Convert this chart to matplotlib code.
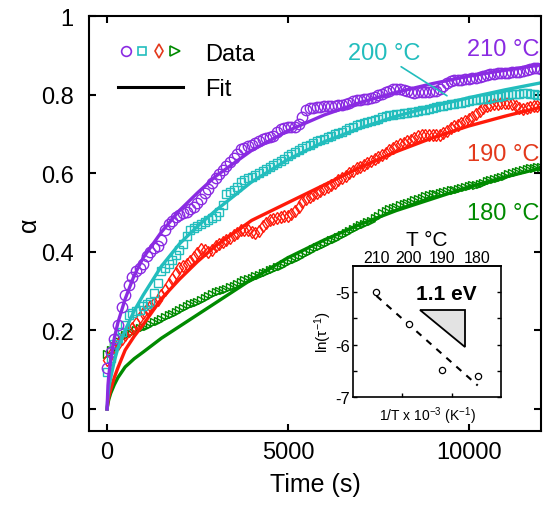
import numpy as np
import matplotlib
matplotlib.use("Agg")
import matplotlib.pyplot as plt
from matplotlib.lines import Line2D
from matplotlib.legend_handler import HandlerTuple

plt.rcParams['font.family'] = ['Liberation Sans', 'DejaVu Sans']
plt.rcParams['mathtext.fontset'] = 'custom'
plt.rcParams['mathtext.rm'] = 'Liberation Sans'
plt.rcParams['mathtext.it'] = 'Liberation Sans:italic'
plt.rcParams['mathtext.default'] = 'regular'
plt.rcParams['axes.unicode_minus'] = False

# ---------------- data ----------------
t_data = np.arange(0, 12001, 100)

a_210 = [0.105, 0.145, 0.178, 0.215, 0.260, 0.290, 0.315, 0.335, 0.350, 0.358,
         0.370, 0.390, 0.400, 0.410, 0.415, 0.430, 0.455, 0.470, 0.478, 0.488,
         0.494, 0.498, 0.502, 0.508, 0.515, 0.525, 0.535, 0.550, 0.560, 0.575,
         0.587, 0.598, 0.608, 0.618, 0.628, 0.638, 0.648, 0.662, 0.665, 0.668,
         0.672, 0.678, 0.682, 0.686, 0.690, 0.692, 0.695, 0.705, 0.713, 0.716,
         0.717, 0.718, 0.718, 0.725, 0.742, 0.760, 0.765, 0.767, 0.768, 0.769,
         0.770, 0.770, 0.771, 0.772, 0.773, 0.774, 0.776, 0.779, 0.783, 0.786,
         0.787, 0.788, 0.790, 0.792, 0.795, 0.798, 0.802, 0.806, 0.810, 0.814,
         0.815, 0.815, 0.812, 0.808, 0.806, 0.805, 0.806, 0.807, 0.806, 0.807,
         0.808, 0.810, 0.814, 0.822, 0.830, 0.834, 0.836, 0.837, 0.838, 0.839,
         0.840, 0.841, 0.842, 0.844, 0.847, 0.850, 0.852, 0.853, 0.854, 0.855,
         0.856, 0.856, 0.857, 0.857, 0.858, 0.860, 0.863, 0.866, 0.868, 0.868,
         0.866]

a_200 = [0.095, 0.130, 0.165, 0.180, 0.195, 0.215, 0.238, 0.245, 0.250, 0.253,
         0.262, 0.268, 0.273, 0.295, 0.320, 0.350, 0.360, 0.370, 0.380, 0.392,
         0.405, 0.420, 0.440, 0.455, 0.460, 0.466, 0.470, 0.476, 0.480, 0.485,
         0.492, 0.502, 0.520, 0.548, 0.553, 0.558, 0.565, 0.578, 0.583, 0.587,
         0.591, 0.595, 0.600, 0.605, 0.610, 0.615, 0.620, 0.625, 0.631, 0.637,
         0.643, 0.648, 0.654, 0.660, 0.665, 0.670, 0.673, 0.677, 0.681, 0.685,
         0.688, 0.692, 0.695, 0.699, 0.703, 0.706, 0.710, 0.714, 0.718, 0.722,
         0.725, 0.728, 0.730, 0.733, 0.736, 0.739, 0.742, 0.745, 0.747, 0.748,
         0.750, 0.751, 0.753, 0.754, 0.756, 0.757, 0.759, 0.760, 0.762, 0.764,
         0.766, 0.768, 0.770, 0.772, 0.774, 0.776, 0.777, 0.778, 0.779, 0.781,
         0.783, 0.785, 0.787, 0.788, 0.789, 0.790, 0.791, 0.793, 0.795, 0.797,
         0.799, 0.800, 0.801, 0.802, 0.802, 0.803, 0.803, 0.802, 0.801, 0.800,
         0.800]

a_190 = [0.125, 0.140, 0.155, 0.165, 0.178, 0.188, 0.198, 0.206, 0.220, 0.235,
         0.245, 0.255, 0.262, 0.270, 0.278, 0.290, 0.302, 0.318, 0.332, 0.345,
         0.358, 0.364, 0.370, 0.377, 0.386, 0.398, 0.408, 0.405, 0.400, 0.405,
         0.415, 0.420, 0.426, 0.430, 0.435, 0.442, 0.449, 0.455, 0.456, 0.455,
         0.450, 0.447, 0.452, 0.465, 0.474, 0.480, 0.483, 0.486, 0.488, 0.490,
         0.492, 0.495, 0.503, 0.515, 0.527, 0.535, 0.540, 0.545, 0.550, 0.555,
         0.560, 0.565, 0.570, 0.576, 0.582, 0.588, 0.594, 0.600, 0.606, 0.612,
         0.617, 0.622, 0.627, 0.632, 0.636, 0.641, 0.646, 0.652, 0.658, 0.664,
         0.669, 0.674, 0.678, 0.681, 0.685, 0.690, 0.694, 0.697, 0.698, 0.698,
         0.697, 0.697, 0.698, 0.702, 0.708, 0.714, 0.719, 0.723, 0.728, 0.733,
         0.738, 0.743, 0.750, 0.758, 0.765, 0.770, 0.773, 0.775, 0.777, 0.778,
         0.778, 0.778, 0.776, 0.772, 0.766, 0.764, 0.765, 0.768, 0.770, 0.771,
         0.772]

a_180 = [0.140, 0.150, 0.160, 0.172, 0.182, 0.189, 0.193, 0.197, 0.202, 0.206,
         0.209, 0.212, 0.216, 0.221, 0.225, 0.229, 0.233, 0.238, 0.243, 0.248,
         0.252, 0.257, 0.262, 0.266, 0.270, 0.273, 0.277, 0.282, 0.288, 0.293,
         0.297, 0.300, 0.303, 0.306, 0.310, 0.314, 0.318, 0.323, 0.327, 0.331,
         0.334, 0.338, 0.341, 0.345, 0.349, 0.353, 0.357, 0.361, 0.365, 0.369,
         0.373, 0.378, 0.382, 0.387, 0.391, 0.396, 0.401, 0.406, 0.411, 0.415,
         0.420, 0.424, 0.429, 0.433, 0.438, 0.442, 0.447, 0.452, 0.457, 0.462,
         0.467, 0.471, 0.475, 0.479, 0.485, 0.492, 0.499, 0.505, 0.509, 0.512,
         0.515, 0.518, 0.521, 0.524, 0.528, 0.532, 0.535, 0.538, 0.541, 0.544,
         0.546, 0.548, 0.550, 0.552, 0.554, 0.556, 0.558, 0.560, 0.562, 0.565,
         0.567, 0.569, 0.571, 0.573, 0.576, 0.579, 0.582, 0.585, 0.588, 0.591,
         0.594, 0.597, 0.600, 0.603, 0.606, 0.608, 0.610, 0.612, 0.614, 0.616,
         0.616]

t_fit = [0, 25, 50, 100, 200, 300, 500, 750, 1000, 1500, 2000, 2500, 3000,
         4000, 5000, 6000, 7000, 8000, 9000, 10000, 11000, 12000]
fit_210 = [0, 0.06, 0.088, 0.125, 0.18, 0.22, 0.28, 0.34, 0.385, 0.45, 0.505,
           0.55, 0.592, 0.658, 0.708, 0.748, 0.78, 0.806, 0.828, 0.847, 0.862, 0.876]
fit_200 = [0, 0.035, 0.055, 0.08, 0.122, 0.155, 0.20, 0.25, 0.29, 0.363, 0.42,
           0.465, 0.505, 0.578, 0.635, 0.68, 0.715, 0.745, 0.77, 0.792, 0.812, 0.83]
fit_190 = [0, 0.02, 0.032, 0.05, 0.08, 0.105, 0.15, 0.185, 0.215, 0.28, 0.33,
           0.375, 0.415, 0.48, 0.525, 0.57, 0.615, 0.655, 0.69, 0.72, 0.745, 0.768]
fit_180 = [0, 0.015, 0.025, 0.04, 0.062, 0.08, 0.107, 0.128, 0.145, 0.18, 0.21,
           0.24, 0.27, 0.33, 0.385, 0.43, 0.47, 0.505, 0.535, 0.565, 0.59, 0.613]

series_labels = ['210 °C', '200 °C', '190 °C', '180 °C']

# inset data
T_celsius = [210, 200, 190, 180]
inv_T = [1000.0 / (T + 273.15) for T in T_celsius]
ln_rate = [-5.00, -5.60, -6.48, -6.59]
arr_x = [2.070, 2.207]
arr_y = [-5.07, -6.78]
tri_x = [2.1293, 2.1892, 2.1892]
tri_y = [-5.337, -5.337, -6.036]

# ---------------- styles ----------------
c210 = '#8a2be2'
c200 = '#22bdbd'
c190 = '#ff1a0a'
c190_txt = '#e3391c'
c180 = '#008a00'

fig = plt.figure(figsize=(5.43, 5.06), dpi=100)
ax = fig.add_axes([0.1639, 0.1462, 0.8324, 0.8202])

mk = dict(ls='none', mfc='none', mew=1.0)
ax.plot(t_data, a_180, marker='>', ms=5.5, mec=c180, **mk)
ax.plot(t_data, a_190, marker='d', ms=6.2, mec=c190, **mk)
ax.plot(t_data, a_200, marker='s', ms=5.5, mec=c200, **mk)
ax.plot(t_data, a_210, marker='o', ms=7.5, mec=c210, **mk)

lw = 2.4
ax.plot(t_fit, fit_180, color=c180, lw=lw)
ax.plot(t_fit, fit_190, color=c190, lw=lw)
ax.plot(t_fit, fit_200, color=c200, lw=lw)
ax.plot(t_fit, fit_210, color=c210, lw=lw)

ax.set_xlim(-500, 12000)
ax.set_ylim(-0.056, 1.0)
ax.set_xticks([0, 5000, 10000])
ax.set_xticklabels(['0', '5000', '10000'])
ax.set_yticks([0, 0.2, 0.4, 0.6, 0.8, 1.0])
ax.set_yticklabels(['0', '0.2', '0.4', '0.6', '0.8', '1'])
ax.tick_params(direction='in', top=True, right=True, length=5, width=1.5,
               labelsize=17)
ax.tick_params(axis='y', pad=11)
ax.tick_params(axis='x', pad=7)
for s in ax.spines.values():
    s.set_linewidth(1.5)
ax.set_xlabel('Time (s)', fontsize=18, labelpad=7)
ax.set_ylabel('α', fontsize=18, labelpad=0)

# series labels
ax.text(11950, 0.916, series_labels[0], color=c210, fontsize=17, ha='right', va='center')
ax.annotate(series_labels[1], xy=(9400, 0.797), xytext=(6650, 0.906),
            color=c200, fontsize=17, ha='left', va='center',
            arrowprops=dict(arrowstyle='-', color=c200, lw=1.2,
                            shrinkA=0, shrinkB=0, relpos=(0.68, 0.0)))
ax.text(11950, 0.649, series_labels[2], color=c190_txt, fontsize=17, ha='right', va='center')
ax.text(11950, 0.50, series_labels[3], color=c180, fontsize=17, ha='right', va='center')

# legend
h_data = tuple(Line2D([], [], ls='none', marker=m, ms=s, mfc='none', mec=c, mew=1.2)
               for m, s, c in [('o', 7, c210), ('s', 6, c200), ('d', 7.5, c190_txt), ('>', 6.5, c180)])
h_fit = Line2D([], [], color='k', lw=2.2)
ax.legend([h_data, h_fit], ['Data', 'Fit'],
          handler_map={tuple: HandlerTuple(ndivide=None, pad=0.0)},
          loc='upper left', bbox_to_anchor=(0.064, 0.936), frameon=False,
          fontsize=17, handlelength=2.75, handletextpad=0.95, borderpad=0,
          borderaxespad=0, labelspacing=0.56)

# ---------------- inset ----------------
iax = fig.add_axes([0.6501, 0.2134, 0.2726, 0.2589])
iax.plot(arr_x, arr_y, color='k', lw=1.5, dashes=(3.2, 3.2))
iax.plot(inv_T, ln_rate, ls='none', marker='o', ms=4.5, mfc='white', mec='k', mew=0.9)
iax.fill(tri_x, tri_y, facecolor='#e3e3e3', edgecolor='k', lw=1.3)
iax.text(2.164, -5.03, '1.1 eV', fontsize=15, fontweight='bold', ha='center', va='center')
iax.set_xlim(2.0383, 2.2385)
iax.set_ylim(-7, -4.5)
iax.set_yticks([-7, -6, -5])
iax.set_yticks([-6.5, -5.5], minor=True)
iax.set_xticks([2.105, 2.172])
iax.set_xticklabels([])
iax.tick_params(direction='in', right=True, length=3, width=1.0, labelsize=12, pad=2)
iax.tick_params(which='minor', direction='in', right=True, length=3, width=1.0)
for s in iax.spines.values():
    s.set_linewidth(1.2)
iax.set_xlabel('1/T x 10$^{-3}$ (K$^{-1}$)', fontsize=10, labelpad=3)
iax.set_ylabel('ln(τ$^{-1}$)', fontsize=11, labelpad=1)

top = iax.secondary_xaxis('top')
top.set_xticks(inv_T)
top.set_xticklabels([str(T) for T in T_celsius])
top.tick_params(length=0, labelsize=11.5, pad=1)
top.spines['top'].set_linewidth(1.2)
top.set_xlabel('T °C', fontsize=15, labelpad=3)

fig.savefig('out.png', dpi=100)
